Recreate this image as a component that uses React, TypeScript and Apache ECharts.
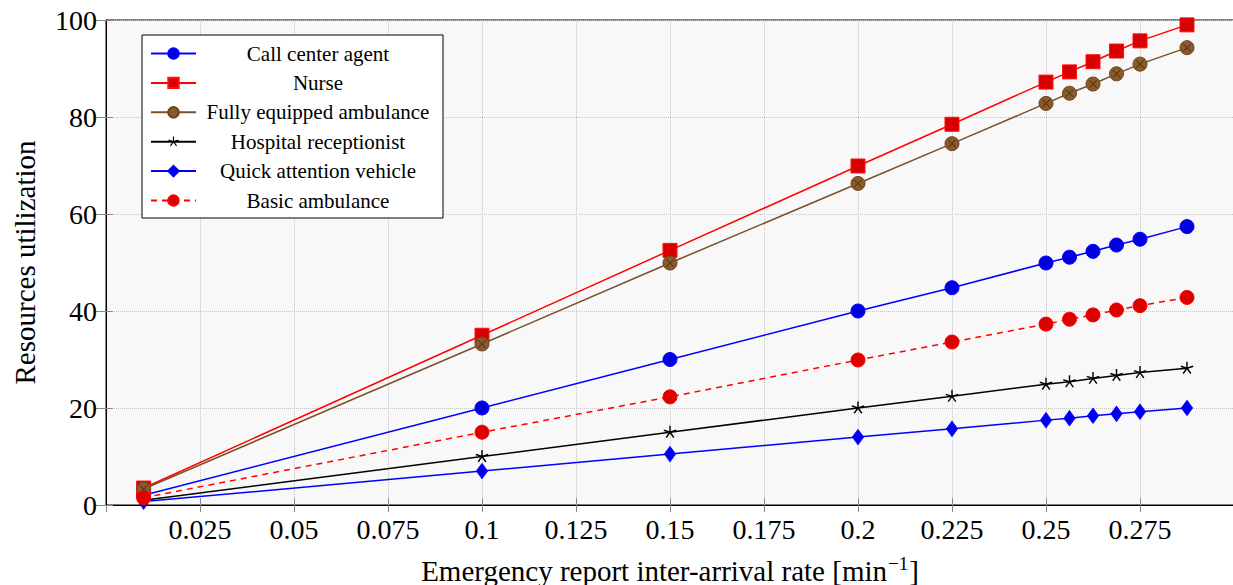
import React, { useEffect, useRef } from "react";
import * as echarts from "echarts";

const xValues = [0.01, 0.1, 0.15, 0.2, 0.225, 0.25, 0.25625, 0.2625, 0.26875, 0.275, 0.2875];
const callCenterAgent = [2, 20, 30, 40, 44.8, 49.9, 51.1, 52.3, 53.6, 54.8, 57.4];
const nurse = [3.5, 35, 52.5, 69.9, 78.5, 87.2, 89.3, 91.4, 93.6, 95.7, 99];
const fullyEquipped = [3.3, 33.2, 49.9, 66.3, 74.5, 82.8, 84.9, 86.8, 88.9, 90.9, 94.3];
const receptionist = [1, 10, 15, 20, 22.4, 24.9, 25.4, 26.1, 26.7, 27.3, 28.2];
const quickVehicle = [0.7, 7, 10.5, 14, 15.7, 17.5, 17.9, 18.4, 18.8, 19.25, 20.0];
const basicAmbulance = [1.5, 15, 22.3, 29.9, 33.6, 37.3, 38.3, 39.2, 40.2, 41.1, 42.8];
const seriesNames = [
  "Call center agent",
  "Nurse",
  "Fully equipped ambulance",
  "Hospital receptionist",
  "Quick attention vehicle",
  "Basic ambulance",
];
const xTickStep = 0.025;
const yTickStep = 20;

const FONT = "Liberation Serif";

function asteriskPath(): string {
  const parts: string[] = [];
  const w = 0.11;
  for (let i = 0; i < 5; i++) {
    const a = (-90 + i * 72) * (Math.PI / 180);
    const px = -Math.sin(a) * w;
    const py = Math.cos(a) * w;
    const ex = Math.cos(a);
    const ey = Math.sin(a);
    parts.push(
      `M${(px).toFixed(3)} ${(py).toFixed(3)} L${(ex + px).toFixed(3)} ${(ey + py).toFixed(3)} L${(ex - px).toFixed(3)} ${(ey - py).toFixed(3)} L${(-px).toFixed(3)} ${(-py).toFixed(3)} Z`
    );
  }
  parts.push("M-1 1 L-0.99 1 L-0.99 0.99 Z M1 1 L0.99 1 L0.99 0.99 Z");
  return "path://" + parts.join(" ");
}

const crossPath =
  "path://M-1 -0.86 L-0.86 -1 L1 0.86 L0.86 1 Z M0.86 -1 L1 -0.86 L-0.86 1 L-1 0.86 Z";

function pairs(ys: number[]) {
  return xValues.map((x, i) => [x, ys[i]]);
}

export default function App() {
  const ref = useRef<HTMLDivElement>(null);
  useEffect(() => {
    if (!ref.current) return;
    const chart = echarts.init(ref.current, null, { renderer: "svg" });
    const fmt = (v: number) => {
      if (v < 0.001 || v > 0.299) return "";
      return parseFloat(v.toFixed(3)).toString();
    };
    const lineW = 1.5;
    chart.setOption({
      animation: false,
      backgroundColor: "#ffffff",
      textStyle: { fontFamily: FONT },
      grid: {
        left: 106,
        top: 20,
        width: 1128,
        height: 485,
        outerBoundsMode: "none",
        containLabel: false,
        show: true,
        backgroundColor: "#f8f8f8",
        borderColor: "#000",
        borderWidth: 1,
      },
      legend: {
        data: seriesNames,
        orient: "vertical",
        left: 142,
        top: 35,
        itemWidth: 45,
        itemHeight: 13,
        itemGap: 8.4,
        padding: [8, 8, 7, 8],
        borderColor: "#000",
        borderWidth: 1,
        backgroundColor: "#ffffff",
        formatter: (name: string) => `{t|${name}}`,
        textStyle: {
          fontFamily: FONT,
          fontSize: 21,
          color: "#000",
          rich: {
            t: { width: 234, align: "center", fontFamily: FONT, fontSize: 21, lineHeight: 21, color: "#000" },
          },
        },
      },
      xAxis: [
        {
          type: "value",
          min: 0,
          max: 0.3,
          interval: xTickStep,
          position: "bottom",
          name: "{a|Emergency report inter-arrival rate [min}{s|−1}{a|]}",
          nameLocation: "middle",
          nameGap: 49,
          nameTextStyle: {
            fontFamily: FONT,
            rich: {
              a: { fontFamily: FONT, fontSize: 29, color: "#000", verticalAlign: "bottom" },
              s: { fontFamily: FONT, fontSize: 19, color: "#000", verticalAlign: "bottom", padding: [0, 1, 12, 1] },
            },
          },
          axisLine: { show: true, lineStyle: { color: "#000", width: 1 } },
          axisTick: { show: true, inside: true, length: 7, lineStyle: { color: "#888" } },
          axisLabel: {
            show: true,
            formatter: fmt,
            fontFamily: FONT,
            fontSize: 28,
            color: "#000",
            margin: 10,
            showMinLabel: false,
            showMaxLabel: false,
          },
          splitLine: { show: true, lineStyle: { color: "#c4c4c4", type: "dotted", width: 1 } },
        },
        {
          type: "value",
          min: 0,
          max: 0.3,
          interval: xTickStep,
          position: "top",
          axisLine: { show: true, lineStyle: { color: "#000", width: 1 } },
          axisTick: { show: true, inside: true, length: 7, lineStyle: { color: "#888" } },
          axisLabel: { show: false },
          splitLine: { show: false },
        },
      ],
      yAxis: [
        {
          type: "value",
          min: 0,
          max: 100,
          interval: yTickStep,
          name: "Resources utilization",
          nameLocation: "middle",
          nameGap: 67,
          nameTextStyle: { fontFamily: FONT, fontSize: 29, color: "#000" },
          axisLine: { show: true, lineStyle: { color: "#000", width: 1 } },
          axisTick: { show: true, inside: true, length: 7, lineStyle: { color: "#888" } },
          axisLabel: { fontFamily: FONT, fontSize: 28, color: "#000", margin: 9 },
          splitLine: { show: true, lineStyle: { color: "#c4c4c4", type: "dotted", width: 1 } },
        },
        {
          type: "value",
          min: 0,
          max: 100,
          interval: yTickStep,
          position: "right",
          axisLine: { show: true, lineStyle: { color: "#000", width: 1 } },
          axisTick: { show: true, inside: true, length: 10, lineStyle: { color: "#888" } },
          axisLabel: { show: false },
          splitLine: { show: false },
        },
      ],
      series: [
        {
          name: seriesNames[0],
          type: "line",
          data: pairs(callCenterAgent),
          symbol: "circle",
          symbolSize: 14,
          lineStyle: { color: "#0000ff", width: lineW },
          itemStyle: { color: "#0000e0", borderColor: "#0000ff", borderWidth: 1 },
          z: 2,
        },
        {
          name: seriesNames[1],
          type: "line",
          data: pairs(nurse),
          symbol: "rect",
          symbolSize: 14,
          lineStyle: { color: "#ff0000", width: lineW },
          itemStyle: { color: "#d80000", borderColor: "#ff1010", borderWidth: 1 },
          z: 3,
        },
        {
          name: seriesNames[2],
          type: "line",
          data: pairs(fullyEquipped),
          symbol: "circle",
          symbolSize: 14,
          lineStyle: { color: "#7a5028", width: lineW },
          itemStyle: { color: "#8a5a2a", borderColor: "#6a4420", borderWidth: 1 },
          z: 4,
        },
        {
          name: "cross-overlay",
          type: "line",
          data: pairs(fullyEquipped),
          symbol: crossPath,
          symbolSize: 8,
          lineStyle: { width: 0, opacity: 0 },
          itemStyle: { color: "#4a2e14" },
          silent: true,
          z: 5,
        },
        {
          name: seriesNames[3],
          type: "line",
          data: pairs(receptionist),
          symbol: asteriskPath(),
          symbolSize: 13,
          lineStyle: { color: "#000000", width: lineW },
          itemStyle: { color: "#000000" },
          z: 6,
        },
        {
          name: seriesNames[4],
          type: "line",
          data: pairs(quickVehicle),
          symbol: "diamond",
          symbolSize: [11, 15],
          lineStyle: { color: "#0000ff", width: lineW },
          itemStyle: { color: "#0000f0", borderColor: "#0000ff", borderWidth: 1 },
          z: 7,
        },
        {
          name: seriesNames[5],
          type: "line",
          data: pairs(basicAmbulance),
          symbol: "circle",
          symbolSize: 14,
          lineStyle: { color: "#ff0000", width: lineW, type: [6, 5] },
          itemStyle: { color: "#dd0000", borderColor: "#ff0000", borderWidth: 1 },
          z: 8,
        },
      ],
    });
    return () => chart.dispose();
  }, []);
  return (
    <div
      ref={ref}
      style={{ position: "absolute", left: 0, top: 0, width: 1233, height: 585 }}
    />
  );
}
